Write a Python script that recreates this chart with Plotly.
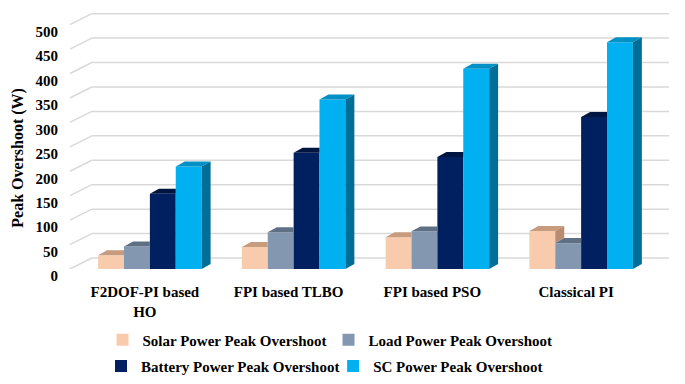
import plotly.graph_objects as go

categories = ["F2DOF-PI based<br>HO", "FPI based TLBO", "FPI based PSO", "Classical PI"]
series_names = ["Solar Power Peak Overshoot", "Load Power Peak Overshoot",
                "Battery Power Peak Overshoot", "SC Power Peak Overshoot"]
solar = [28, 45, 65, 78]
load = [46, 75, 77, 53]
battery = [154, 238, 229, 311]
sc = [210, 347, 410, 464]
y_ticks = [0, 50, 100, 150, 200, 250, 300, 350, 400, 450, 500]

values = [solar, load, battery, sc]
front_colors = ["#F8CBAD", "#8497B0", "#002060", "#00B0F0"]
top_colors = ["#C79B7E", "#5F7085", "#00153F", "#0090C6"]
side_colors = ["#B88C70", "#56657A", "#001236", "#006E96"]

FONT = "Liberation Serif"
W = 0.18      # bar width (category units)
DX = 0.0625   # depth offset x (category units)
DY = 10.2     # depth offset y (value units)
GRID_DY = 22.5

def bfont(size=15):
    return dict(family=FONT, size=size, color="#000000", weight="bold")

legend_ids = ["legend", "legend2", "legend3", "legend4"]
legend_x = [0.0426, 0.4357, 0.0400, 0.4437]
legend_y = [-0.274, -0.274, -0.375, -0.375]

fig = go.Figure()
n_ser = len(values)

# front faces
for j, (name, vals) in enumerate(zip(series_names, values)):
    xs = [i + (j - (n_ser - 1) / 2) * W for i in range(len(categories))]
    fig.add_trace(go.Bar(
        x=xs, y=vals, width=W, name=name,
        marker=dict(color=front_colors[j], line=dict(width=0)),
        legend=legend_ids[j],
        hoverinfo="skip",
    ))

# top and side faces (painter's order)
for i in range(len(categories)):
    for j in range(n_ser):
        v = values[j][i]
        xl = i + (j - (n_ser - 1) / 2) * W - W / 2
        xr = xl + W
        nxt = values[j + 1][i] if j + 1 < n_ser else None
        if nxt is not None and nxt >= v + DY:
            tx = [xl, xl + DX, xr, xr, xl]
        else:
            tx = [xl, xl + DX, xr + DX, xr, xl]
        ty = [v, v + DY, v + DY, v, v]
        fig.add_trace(go.Scatter(x=tx, y=ty, fill="toself", mode="lines",
                                 line=dict(width=0), fillcolor=top_colors[j],
                                 showlegend=False, hoverinfo="skip"))
        base = 0 if nxt is None else nxt
        if nxt is None or v > nxt:
            sx = [xr, xr + DX, xr + DX, xr, xr]
            sy = [base, base + DY, v + DY, v, base]
            fig.add_trace(go.Scatter(x=sx, y=sy, fill="toself", mode="lines",
                                     line=dict(width=0), fillcolor=side_colors[j],
                                     showlegend=False, hoverinfo="skip"))

# back-wall gridlines and floor diagonals
shapes = []
for t in y_ticks:
    shapes.append(dict(type="line", xref="paper", yref="y", layer="below",
                       x0=0.024, x1=1.028, y0=t + GRID_DY, y1=t + GRID_DY,
                       line=dict(color="#D9D9D9", width=1.5)))
    shapes.append(dict(type="line", xref="paper", yref="y", layer="below",
                       x0=-0.014, x1=0.024, y0=t, y1=t + GRID_DY,
                       line=dict(color="#D9D9D9", width=1.5)))

legends = {}
for lid, lx, ly in zip(legend_ids, legend_x, legend_y):
    legends[lid] = dict(orientation="h", x=lx, y=ly, xanchor="left", yanchor="middle",
                        font=bfont(15), bgcolor="rgba(0,0,0,0)")

fig.update_layout(
    width=677, height=376,
    margin=dict(l=70, r=32, t=2, b=115),
    paper_bgcolor="white", plot_bgcolor="white",
    barmode="overlay",
    shapes=shapes,
    font=bfont(),
    xaxis=dict(range=[-0.5, 3.5], tickvals=[i - 0.035 for i in range(len(categories))],
               ticktext=categories, showgrid=False, zeroline=False, showline=False,
               ticks="", tickfont=bfont(15), ticklabelstandoff=12, automargin=False),
    yaxis=dict(range=[0, 530], tickvals=y_ticks, showgrid=False, zeroline=False,
               showline=False, ticks="", ticklabelshift=7, ticklabelstandoff=19,
               tickfont=bfont(15), automargin=False),
    annotations=[dict(text="Peak Overshoot (W)", textangle=-90, xref="paper", yref="paper",
                      x=-0.1043, y=0.43, xanchor="center", yanchor="middle",
                      showarrow=False, font=bfont(16))],
    **legends,
)

fig.write_html("out.html")
